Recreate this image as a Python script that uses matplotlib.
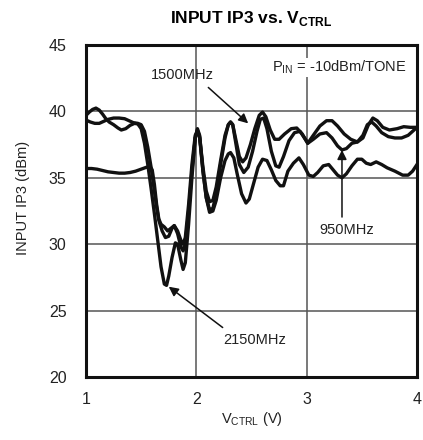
import matplotlib
matplotlib.use("Agg")
import matplotlib.pyplot as plt

plt.rcParams['font.family'] = ['Liberation Sans', 'DejaVu Sans']
plt.rcParams['mathtext.fontset'] = 'custom'
plt.rcParams['mathtext.rm'] = 'Liberation Sans'
plt.rcParams['mathtext.bf'] = 'Liberation Sans:bold'

# curva 2150MHz (mergulho mais fundo)
v2150 = [1.00, 1.03, 1.06, 1.09, 1.12, 1.15, 1.18, 1.21, 1.25, 1.29, 1.32, 1.36, 1.40, 1.44, 1.47,
         1.50, 1.53, 1.56, 1.59, 1.62, 1.65, 1.68, 1.71, 1.73, 1.75, 1.78, 1.81, 1.83, 1.86, 1.88,
         1.90, 1.93, 1.96, 1.99, 2.01, 2.03, 2.06, 2.09, 2.12, 2.15, 2.18, 2.22, 2.26, 2.29, 2.31,
         2.33, 2.36, 2.39, 2.42, 2.45, 2.49, 2.53, 2.57, 2.60, 2.63, 2.67, 2.71, 2.75, 2.80, 2.86,
         2.91, 2.96, 3.01, 3.06, 3.12, 3.18, 3.23, 3.28, 3.34, 3.40, 3.46, 3.51, 3.56, 3.60, 3.64,
         3.69, 3.75, 3.82, 3.88, 3.94, 4.00]
ip2150 = [39.7, 39.95, 40.15, 40.25, 40.1, 39.8, 39.45, 39.2, 39.0, 38.75, 38.6, 38.7, 38.95, 39.1, 39.05,
          38.7, 37.6, 36.0, 34.2, 32.3, 30.3, 28.3, 27.0, 26.9, 27.6, 29.0, 30.1, 30.0, 28.8, 28.1,
          28.6, 31.5, 35.0, 38.0, 38.7, 38.2, 35.5, 33.5, 32.6, 32.7, 33.8, 36.0, 38.0, 39.0, 39.2,
          39.0, 37.8, 36.6, 36.2, 36.5, 37.5, 38.7, 39.7, 39.95, 39.6, 38.6, 37.9, 37.9, 38.3, 38.7,
          38.75, 38.3, 37.6, 38.2, 38.9, 39.3, 39.3, 38.9, 38.3, 37.9, 37.7, 38.0, 39.0, 39.5, 39.3,
          38.8, 38.6, 38.7, 38.85, 38.8, 38.8]

# curva 950MHz
v950 = [1.00, 1.04, 1.08, 1.12, 1.16, 1.20, 1.25, 1.30, 1.35, 1.39, 1.43, 1.47, 1.50, 1.53, 1.56,
        1.59, 1.62, 1.64, 1.66, 1.69, 1.72, 1.75, 1.78, 1.80, 1.83, 1.86, 1.88, 1.90, 1.93, 1.96,
        1.99, 2.01, 2.03, 2.06, 2.09, 2.12, 2.15, 2.18, 2.22, 2.26, 2.29, 2.31, 2.33, 2.36, 2.39,
        2.43, 2.47, 2.51, 2.55, 2.58, 2.61, 2.64, 2.68, 2.72, 2.75, 2.79, 2.84, 2.89, 2.94, 2.98,
        3.01, 3.06, 3.12, 3.18, 3.23, 3.28, 3.32, 3.36, 3.41, 3.46, 3.51, 3.55, 3.59, 3.63, 3.68,
        3.74, 3.80, 3.86, 3.92, 3.96, 4.00]
ip950 = [39.35, 39.2, 39.1, 39.1, 39.25, 39.4, 39.5, 39.5, 39.45, 39.3, 39.15, 39.1, 39.0, 38.5, 37.3,
         35.8, 34.0, 32.8, 31.8, 31.0, 30.5, 30.6, 31.2, 31.4, 30.8, 29.8, 29.5, 30.0, 32.5, 35.5,
         38.0, 38.6, 38.1, 35.8, 34.0, 33.2, 33.3, 34.3, 36.3, 38.2, 39.0, 39.2, 39.0, 37.5, 36.0,
         35.4, 35.8, 37.0, 38.5, 39.4, 39.5, 38.7, 37.0, 35.9, 35.8, 36.6, 37.8, 38.4, 38.5, 38.0,
         37.6, 37.9, 38.3, 38.4, 38.0, 37.4, 37.1, 37.2, 37.6, 37.7, 38.2, 39.0, 39.2, 38.9, 38.4,
         38.1, 38.0, 38.0, 38.2, 38.5, 38.8]

# curva 1500MHz
v1500 = [1.00, 1.05, 1.10, 1.15, 1.20, 1.25, 1.30, 1.35, 1.40, 1.45, 1.50, 1.55, 1.58, 1.60, 1.62,
         1.64, 1.66, 1.68, 1.71, 1.74, 1.77, 1.80, 1.83, 1.86, 1.88, 1.90, 1.93, 1.96, 1.99, 2.01,
         2.03, 2.06, 2.09, 2.12, 2.15, 2.18, 2.22, 2.26, 2.29, 2.31, 2.34, 2.37, 2.41, 2.45, 2.48,
         2.52, 2.56, 2.60, 2.64, 2.68, 2.72, 2.76, 2.79, 2.83, 2.88, 2.93, 2.97, 3.02, 3.06, 3.10,
         3.15, 3.20, 3.24, 3.28, 3.32, 3.36, 3.41, 3.46, 3.50, 3.54, 3.58, 3.63, 3.68, 3.73, 3.80,
         3.87, 3.92, 3.96, 4.00]
ip1500 = [35.7, 35.7, 35.65, 35.55, 35.45, 35.4, 35.35, 35.35, 35.4, 35.5, 35.65, 35.8, 35.85, 35.6, 34.5,
          33.0, 31.9, 31.5, 31.3, 31.0, 31.2, 31.4, 31.0, 30.3, 30.0, 30.5, 33.0, 36.0, 38.2, 38.5,
          38.0, 35.5, 33.5, 32.4, 32.5, 33.3, 35.0, 36.3, 36.8, 36.9, 36.5, 35.3, 33.8, 33.1, 33.4,
          34.6, 35.8, 36.4, 36.3, 35.6, 34.8, 34.4, 34.4, 35.5, 36.1, 36.5, 36.0, 35.2, 35.1, 35.4,
          35.9, 36.0, 35.6, 35.2, 35.0, 35.3, 35.9, 36.4, 36.4, 36.1, 36.0, 36.2, 36.0, 35.75, 35.5,
          35.2, 35.2, 35.5, 36.0]

xticks = [1, 2, 3, 4]
yticks = [20, 25, 30, 35, 40, 45]

fig = plt.figure(figsize=(4.23, 4.40), dpi=100)
ax = fig.add_axes([0.2033, 0.1432, 0.7825, 0.7545])

ax.plot(v2150, ip2150, color='#111111', lw=2.4, solid_joinstyle='round')
ax.plot(v950, ip950, color='#111111', lw=2.4, solid_joinstyle='round')
ax.plot(v1500, ip1500, color='#111111', lw=2.4, solid_joinstyle='round')

ax.set_xlim(1, 4)
ax.set_ylim(20, 45)
ax.set_xticks(xticks)
ax.set_yticks(yticks)
ax.tick_params(length=0, labelsize=11.5, colors='#222222')
ax.tick_params(axis='y', pad=14)
ax.tick_params(axis='x', pad=11)
ax.grid(True, color='#555555', lw=1.1)
ax.set_axisbelow(True)
for s in ax.spines.values():
    s.set_linewidth(2.2)
    s.set_color('#111111')

ax.set_xlabel(r"V$_{\rm CTRL}$ (V)", fontsize=10.5, color='#222222')
ax.xaxis.set_label_coords(0.5, -0.1)
ax.set_ylabel("INPUT IP3 (dBm)", fontsize=10.5, color='#222222')
ax.yaxis.set_label_coords(-0.17, 0.54)
ax.set_title(r"INPUT IP3 vs. V$_{\mathbf{CTRL}}$", fontsize=12.5, fontweight='bold', pad=16)

# anotações
ax.text(3.91, 43.3, r"P$_{\rm IN}$ = -10dBm/TONE", ha='right', va='center', fontsize=10.5, color='#222222',
        bbox=dict(facecolor='white', edgecolor='none', pad=0.5))
ax.annotate("1500MHz", xy=(2.47, 39.1), xytext=(1.87, 42.75), ha='center', va='center',
            fontsize=10.5, color='#222222',
            arrowprops=dict(arrowstyle='-|>', color='#111111', lw=1.1, shrinkA=3, shrinkB=0,
                            mutation_scale=14, relpos=(0.82, 0.0)))
ax.annotate("950MHz", xy=(3.32, 37.1), xytext=(3.36, 31.1), ha='center', va='center',
            fontsize=10.5, color='#222222',
            arrowprops=dict(arrowstyle='-|>', color='#111111', lw=1.1, shrinkA=2, shrinkB=0,
                            mutation_scale=14, relpos=(0.42, 1.0)))
ax.annotate("2150MHz", xy=(1.75, 26.8), xytext=(2.53, 22.8), ha='center', va='center',
            fontsize=10.5, color='#222222',
            arrowprops=dict(arrowstyle='-|>', color='#111111', lw=1.1, shrinkA=3, shrinkB=0,
                            mutation_scale=14, relpos=(0.1, 1.0)))

fig.savefig("out.png", dpi=100)
